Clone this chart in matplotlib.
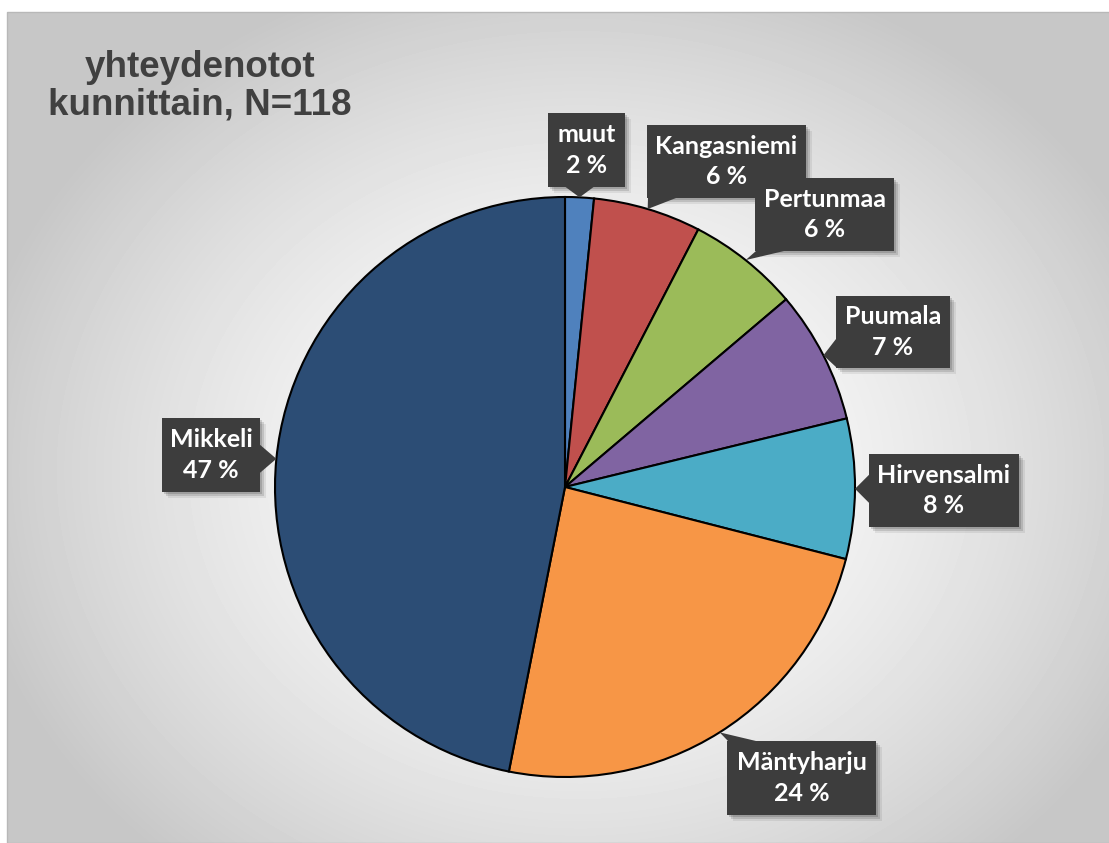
import numpy as np
import matplotlib.pyplot as plt
from matplotlib.patches import Polygon, Rectangle

labels = ['muut', 'Kangasniemi', 'Pertunmaa', 'Puumala', 'Hirvensalmi', 'Mäntyharju', 'Mikkeli']
shares = [1.6, 6.0, 6.2, 7.4, 7.8, 24.1, 46.9]   # slice sizes
percents = [2, 6, 6, 7, 8, 24, 47]               # printed labels
colors = ['#4F81BD', '#C0504D', '#9BBB59', '#8064A2', '#4BACC6', '#F79646', '#2C4D75']
title = 'yhteydenotot\nkunnittain, N=118'

W, H = 1109, 843
fig = plt.figure(figsize=(W / 100, H / 100), dpi=100)
ax = fig.add_axes([0, 0, 1, 1])


def py(y):
    # pixel row -> data y
    return H - y


# chart area background: radial grey gradient
gx, gy = np.meshgrid(np.arange(7, W), np.arange(12, H))
d = np.sqrt(((gx - 580) / 620.0) ** 2 + ((gy - 470) / 520.0) ** 2)
bg = 1.0 - 0.22 * np.clip(d, 0, 1) ** 1.6
ax.imshow(bg, extent=(7, W, 0, py(12)), cmap='gray', vmin=0, vmax=1,
          origin='upper', aspect='auto', zorder=0, interpolation='bilinear')
ax.add_patch(Rectangle((7, 0), W, py(12), fill=False, ec='#b8b8b8', lw=1.0, zorder=1))

cx, cy, r = 565, py(487), 290
wedges, _ = ax.pie(shares, colors=colors, startangle=90, counterclock=False,
                   center=(cx, cy), radius=r, normalize=True,
                   wedgeprops=dict(edgecolor='black', linewidth=1.5))
for w in wedges:
    w.set_zorder(3)

# label boxes (pixel coords x0, y0, x1, y1)
boxes = [(548, 113, 625, 187), (647, 125, 806, 198), (755, 178, 894, 251),
         (836, 296, 950, 368), (869, 454, 1019, 527), (727, 741, 876, 815),
         (162, 418, 260, 492)]

box_col = '#3d3d3d'
for w, (x0, y0, x1, y1), name, pct in zip(wedges, boxes, labels, percents):
    ang = np.deg2rad((w.theta1 + w.theta2) / 2)
    tx, ty = cx + r * np.cos(ang), cy + r * np.sin(ang)
    tpx, tpy = tx, H - ty
    # pick the box edge facing the tip
    if tpy > y1:
        c = np.clip(tpx, x0 + 15, x1 - 15)
        base = [(c - 14, py(y1)), (c + 14, py(y1))]
    elif tpy < y0:
        c = np.clip(tpx, x0 + 15, x1 - 15)
        base = [(c - 14, py(y0)), (c + 14, py(y0))]
    elif tpx < x0:
        c = np.clip(tpy, y0 + 15, y1 - 15)
        base = [(x0, py(c - 14)), (x0, py(c + 14))]
    else:
        c = np.clip(tpy, y0 + 15, y1 - 15)
        base = [(x1, py(c - 14)), (x1, py(c + 14))]
    rect = [(x0, py(y0)), (x1, py(y0)), (x1, py(y1)), (x0, py(y1))]
    tri = base + [(tx, ty)]
    for off, a in [(6, 0.07), (4, 0.12), (2, 0.15)]:
        ax.add_patch(Polygon([(x + off, y - off) for x, y in rect], closed=True,
                             fc='black', ec='none', alpha=a, zorder=4))
    ax.add_patch(Polygon(rect, closed=True, fc=box_col, ec='none', zorder=5))
    ax.add_patch(Polygon(tri, closed=True, fc=box_col, ec='none', zorder=5))
    ax.text((x0 + x1) / 2, py((y0 + y1) / 2), f'{name}\n{pct} %', ha='center', va='center',
            color='white', fontsize=18, fontweight='bold', family='Lato',
            linespacing=1.4, zorder=6)

ax.text(200, py(86), title, ha='center', va='center', fontsize=26.5, fontweight='bold',
        family='Liberation Sans', color='#404040', linespacing=1.08, zorder=6)

ax.set_xlim(0, W)
ax.set_ylim(0, H)
ax.set_aspect('auto')
ax.axis('off')

fig.savefig('out.png', dpi=100, facecolor='white')
